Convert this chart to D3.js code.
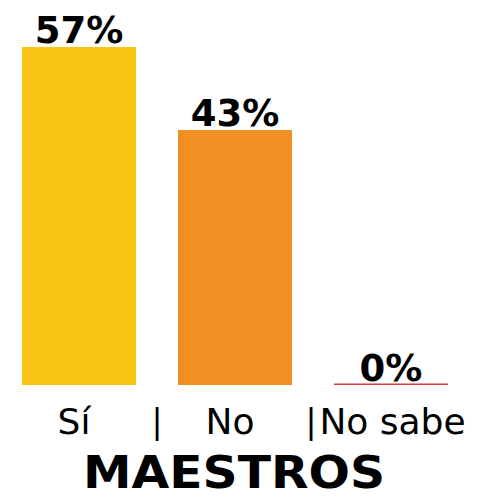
<!DOCTYPE html>
<html>
<head>
<meta charset="utf-8">
<script src="https://cdn.jsdelivr.net/npm/d3@7"></script>
<style>
  html, body { margin: 0; padding: 0; background: #fff; }
  svg { display: block; }
</style>
</head>
<body>
<script>
const categories = ["Sí", "No", "No sabe"];
const values = [57, 43, 0];
const valueLabels = ["57%", "43%", "0%"];
const colors = ["#FBC515", "#F18F22", "#D9363E"];
const title = "MAESTROS";

const W = 487, H = 501;
const svg = d3.select("body").append("svg").attr("width", W).attr("height", H);

const x = d3.scaleBand().domain(categories).range([22, 448]).paddingInner(0.269).paddingOuter(0);
const y = d3.scaleLinear().domain([0, 57]).range([385, 47]);

const g = svg.append("g");

g.selectAll("rect.bar").data(categories).join("rect")
  .attr("class", "bar")
  .attr("x", d => x(d))
  .attr("width", x.bandwidth())
  .attr("y", (d, i) => values[i] === 0 ? y(0) - 1.5 : y(values[i]))
  .attr("height", (d, i) => values[i] === 0 ? 1.5 : y(0) - y(values[i]))
  .attr("fill", (d, i) => colors[i]);

g.selectAll("text.val").data(categories).join("text")
  .attr("class", "val")
  .attr("x", d => x(d) + x.bandwidth() / 2)
  .attr("y", (d, i) => y(values[i]) - 4)
  .attr("text-anchor", "middle")
  .attr("font-family", "DejaVu Sans")
  .attr("font-weight", "bold")
  .attr("font-size", 37)
  .attr("fill", "#000")
  .text((d, i) => valueLabels[i]);

// category labels
const labelDx = [-5, -5, 1.5];
g.selectAll("text.cat").data(categories).join("text")
  .attr("class", "cat")
  .attr("x", (d, i) => x(d) + x.bandwidth() / 2 + labelDx[i])
  .attr("y", 434)
  .attr("text-anchor", "middle")
  .attr("font-family", "DejaVu Sans")
  .attr("font-size", 36)
  .attr("fill", "#000")
  .text(d => d);

// separators
const gap = x.step() - x.bandwidth();
g.selectAll("text.sep").data(categories.slice(1)).join("text")
  .attr("class", "sep")
  .attr("x", (d, i) => x(d) - gap / 2 - (i === 1 ? 2 : 0))
  .attr("y", 433)
  .attr("text-anchor", "middle")
  .attr("font-family", "DejaVu Sans")
  .attr("font-size", 33)
  .attr("fill", "#000")
  .text("|");

svg.append("text")
  .attr("x", 234)
  .attr("y", 488)
  .attr("text-anchor", "middle")
  .attr("font-family", "DejaVu Sans")
  .attr("font-weight", "bold")
  .attr("font-size", 44)
  .attr("textLength", 302)
  .attr("lengthAdjust", "spacingAndGlyphs")
  .attr("fill", "#000")
  .text(title);
</script>
</body>
</html>
